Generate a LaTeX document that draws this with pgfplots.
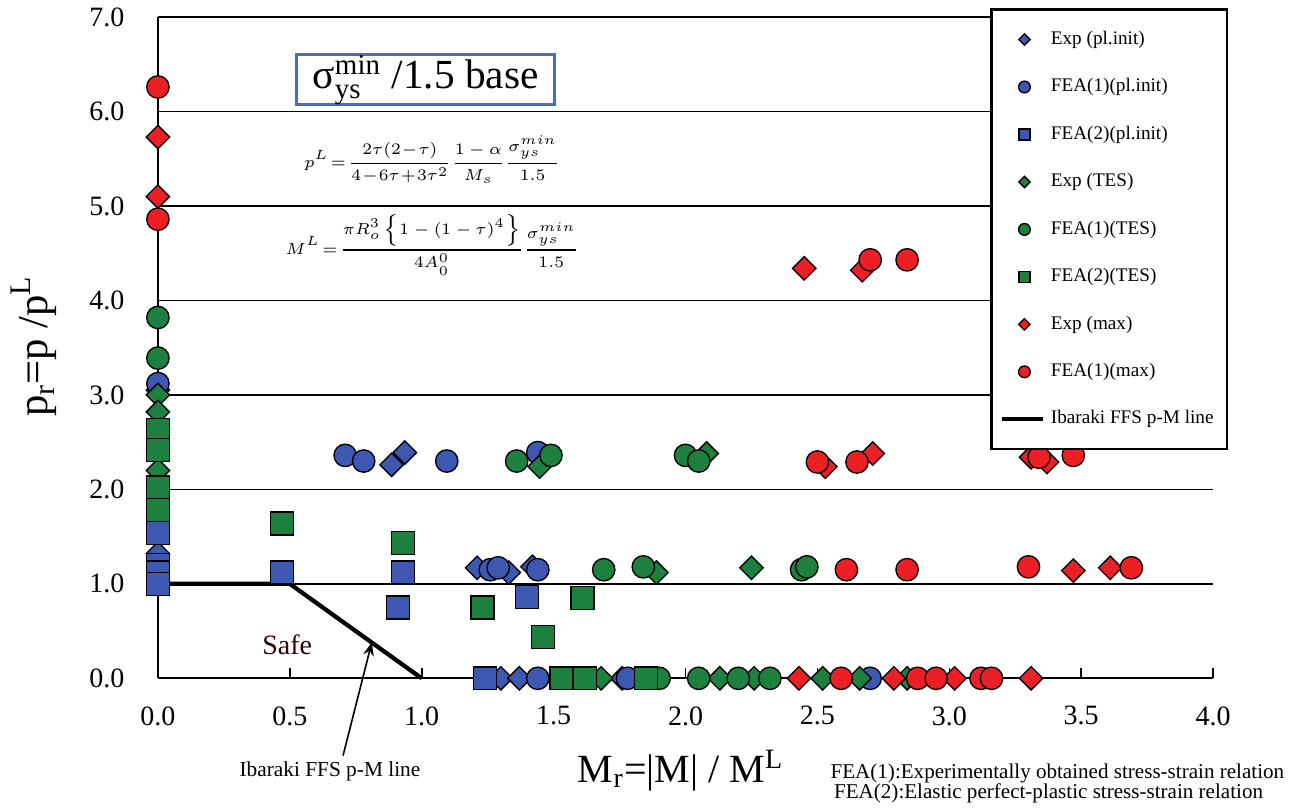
\documentclass[border=0pt]{standalone}
\usepackage{pgfplots}
\pgfplotsset{compat=1.18}
\usepackage{fontspec}
\setmainfont{Liberation Serif}
\usetikzlibrary{arrows.meta}
\definecolor{cblue}{RGB}{62,88,178}
\definecolor{cgreen}{RGB}{30,128,62}
\definecolor{cred}{RGB}{236,32,36}
\definecolor{boxblue}{RGB}{70,110,190}
\pgfplotsset{
 mdia/.style={only marks, mark=square*, mark size=3.1pt, mark options={rotate=45, draw=black, line width=0.5pt, fill=#1}, legend image post style={mark size=1.5pt}},
 mcir/.style={only marks, mark=*, mark size=4.2pt, mark options={draw=black, line width=0.5pt, fill=#1}, legend image post style={mark size=2.2pt}},
 msq/.style={only marks, mark=square*, mark size=4.3pt, mark options={draw=black, line width=0.5pt, fill=#1}, legend image post style={mark size=2.1pt}},
 ibline/.style={legend image code/.code={\draw[##1] (-0.05cm,0cm) -- (0.5cm,0cm);}},
 mklegend/.style={legend image code/.code={\draw[mark repeat=2,mark phase=2,##1] plot coordinates {(0cm,0cm) (0.25cm,0cm) (0.5cm,0cm)};}},
}
\begin{document}
\begin{tikzpicture}
\begin{axis}[
 scale only axis, width=395.6pt, height=247.9pt,
 xmin=0, xmax=4, ymin=0, ymax=7,
 clip=false,
 axis x line*=bottom, axis y line*=left,
 axis line style={line width=0.8pt, -},
 xtick={0,0.5,...,4}, ytick={0,1,...,7},
 /pgf/number format/.cd, fixed, fixed zerofill, precision=1, assume math mode=true, /pgfplots/.cd,
 tick label style={font=\fontsize{10.5}{12}\selectfont},
 xticklabel style={yshift=-7pt},
 yticklabel style={xshift=-9pt},
 tick align=inside,
 xtick pos=bottom, ytick pos=left,
 major tick length=4pt,
 ytick style={draw=none},
 tick style={black, line width=0.6pt},
 ymajorgrids, grid style={black, line width=0.6pt},
 mklegend,
 legend style={at={(0.789,1.013)}, anchor=north west, draw=black, line width=0.8pt, fill=white,
   font=\fontsize{7.2}{8.6}\selectfont, row sep=7.3pt, inner xsep=3pt, inner ysep=6pt},
 legend cell align=left,
]
% Exp (pl.init)
\addplot[mdia=cblue] coordinates {(0,3.05) (0,1.32) (0.886,2.26) (0.936,2.39) (1.21,1.17) (1.33,1.12) (1.42,1.18) (1.30,0) (1.37,0) (1.76,0)};
\addlegendentry{\makebox[60pt][l]{Exp (pl.init)}}
% FEA(1)(pl.init)
\addplot[mcir=cblue] coordinates {(0,3.12) (0.71,2.36) (0.78,2.30) (1.095,2.30) (1.44,2.39) (1.26,1.15) (1.29,1.17) (1.44,1.15) (1.44,0) (1.78,0) (2.70,0)};
\addlegendentry{FEA(1)(pl.init)}
% FEA(2)(pl.init)
\addplot[msq=cblue] coordinates {(0,1.54) (0,1.2) (0,1.12) (0,1.0) (0.47,1.12) (0.93,1.12) (0.91,0.75) (1.40,0.86) (1.24,0)};
\addlegendentry{FEA(2)(pl.init)}
% Exp (TES)
\addplot[mdia=cgreen] coordinates {(0,3.0) (0,2.82) (0,2.2) (1.447,2.24) (2.08,2.38) (1.89,1.12) (2.25,1.17) (1.68,0) (2.13,0) (2.26,0) (2.52,0) (2.66,0) (2.84,0)};
\addlegendentry{Exp (TES)}
% FEA(1)(TES)
\addplot[mcir=cgreen] coordinates {(0,3.82) (0,3.39) (1.36,2.30) (1.49,2.36) (2.0,2.36) (2.05,2.30) (1.69,1.15) (1.84,1.18) (2.44,1.15) (2.46,1.18) (1.90,0) (2.05,0) (2.20,0) (2.32,0)};
\addlegendentry{FEA(1)(TES)}
% FEA(2)(TES)
\addplot[msq=cgreen] coordinates {(0,2.63) (0,2.42) (0,2.02) (0,1.78) (0.47,1.64) (0.93,1.43) (1.23,0.75) (1.61,0.85) (1.46,0.44) (1.53,0) (1.62,0) (1.85,0)};
\addlegendentry{FEA(2)(TES)}
% Exp (max)
\addplot[mdia=cred] coordinates {(0,5.73) (0,5.10) (2.45,4.34) (2.67,4.32) (2.53,2.24) (2.71,2.38) (3.31,2.34) (3.37,2.29) (3.47,1.14) (3.61,1.17) (2.43,0) (2.79,0) (3.02,0) (3.31,0)};
\addlegendentry{Exp (max)}
% FEA(1)(max)
\addplot[mcir=cred] coordinates {(0,6.26) (0,4.86) (2.70,4.43) (2.84,4.43) (2.50,2.29) (2.65,2.29) (3.34,2.34) (3.47,2.36) (2.61,1.15) (2.84,1.15) (3.30,1.18) (3.69,1.17) (2.59,0) (2.88,0) (2.95,0) (3.12,0) (3.16,0)};
\addlegendentry{FEA(1)(max)}
% Ibaraki line
\addplot[black, line width=1.6pt, mark=none, ibline] coordinates {(0,1) (0.5,1) (1.0,0)};
\addlegendentry{Ibaraki FFS p-M line}

\node[draw=boxblue, line width=1.1pt, fill=white, minimum width=96.7pt, minimum height=18.7pt, inner sep=0pt, font=\fontsize{15.5}{16}\selectfont] at (axis cs:1.015,6.335) {σ$_{\mathrm{ys}}^{\mathrm{min}}$ /1.5 base};
\node[font=\fontsize{5.9}{7}\selectfont] at (axis cs:1.04,5.49) {$\displaystyle p^{L}\!=\!\frac{2\tau(2\!-\!\tau)}{4\!-\!6\tau\!+\!3\tau^{2}}\frac{1-\alpha}{M_s}\frac{\sigma_{ys}^{min}}{1.5}$};
\node[font=\fontsize{5.9}{7}\selectfont] at (axis cs:1.04,4.59) {$\displaystyle M^{L}\!=\!\frac{\pi R_o^3\left\{1-(1-\tau)^4\right\}}{4A_0^0}\frac{\sigma_{ys}^{min}}{1.5}$};
\node[font=\fontsize{10.5}{12}\selectfont, text=black!80!red] at (axis cs:0.49,0.35) {Safe};
\end{axis}
\node[font=\fontsize{15}{16}\selectfont] at (196pt,-34.5pt) {M$_{\mathrm{r}}$=|M| / M$^{\mathrm{L}}$};
\node[font=\fontsize{16}{17}\selectfont, rotate=90] at (-46.5pt,124.5pt) {p$_{\mathrm{r}}$=p /p$^{\mathrm{L}}$};
\node[font=\fontsize{8}{9}\selectfont] at (64.5pt,-35pt) {Ibaraki FFS p-M line};
\draw[-{Stealth[length=5pt,width=4pt]}, line width=0.6pt] (69.4pt,-29pt) -- (80.2pt,13.5pt);
\node[font=\fontsize{7.9}{7.5}\selectfont, align=left, anchor=north west, inner sep=0pt] at (252pt,-32pt) {FEA(1):Experimentally obtained stress-strain relation\\[0pt]\,FEA(2):Elastic perfect-plastic stress-strain relation};
\pgfresetboundingbox
\path (-59.2pt,-48.7pt) rectangle (424.8pt,254.3pt);
\end{tikzpicture}
\end{document}
